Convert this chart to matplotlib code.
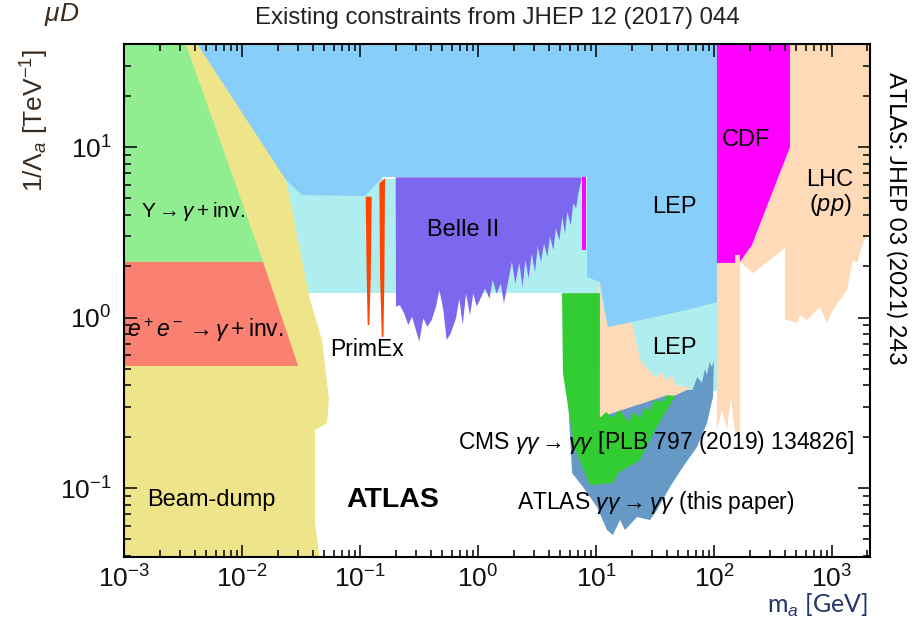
import matplotlib
matplotlib.use("Agg")
import matplotlib.pyplot as plt
from matplotlib.ticker import LogLocator, NullFormatter, FixedLocator

plt.rcParams['font.family'] = ['Liberation Sans', 'DejaVu Sans']
plt.rcParams['mathtext.fontset'] = 'custom'
plt.rcParams['mathtext.rm'] = 'Liberation Sans'
plt.rcParams['mathtext.it'] = 'Liberation Sans:italic'
plt.rcParams['mathtext.bf'] = 'Liberation Sans:bold'

# ---- exclusion regions: mass m_a [GeV], coupling 1/Lambda_a [TeV^-1] ----
lep_pale_m = [0.02, 120, 120, 10.8, 10.8, 0.02]
lep_pale_c = [6.5, 6.5, 0.37, 0.37, 1.39, 1.39]

lep_m = [0.003, 106, 106, 59, 20.2, 12.6, 10.8, 8.39, 8.39, 0.157, 0.11, 0.0322, 0.0236]
lep_c = [41, 41, 1.23, 1.11, 0.941, 0.88, 1.61, 1.73, 6.67, 6.67, 5.16, 5.22, 6.4]

belle_m = [0.2006, 7.56, 7.56, 7.09, 6.78, 6.43, 6.11, 5.72, 5.46, 5.19, 4.89, 4.58, 4.35,
           4.08, 3.87, 3.63, 3.42, 3.21, 3.04, 2.85, 2.69, 2.52, 2.39, 2.24, 2.07, 1.94,
           1.81, 1.66, 1.56, 1.44, 1.33, 1.25, 1.15, 1.05, 0.975, 0.914, 0.856, 0.792,
           0.742, 0.695, 0.651, 0.587, 0.543, 0.508, 0.471, 0.441, 0.405, 0.372, 0.344,
           0.318, 0.298, 0.276, 0.257, 0.236, 0.218, 0.202]
belle_c = [6.64, 6.64, 6.55, 5.35, 4.36, 4.67, 3.48, 4.17, 3.11, 3.90, 2.84, 3.33, 2.49,
           2.98, 2.27, 2.72, 2.12, 2.60, 1.85, 2.38, 1.69, 2.17, 1.51, 2.08, 1.58, 2.12,
           1.66, 1.21, 1.58, 1.38, 1.66, 1.29, 1.48, 1.29, 1.16, 1.38, 1.03, 1.38,
           0.903, 1.29, 0.989, 0.807, 0.738, 1.11, 1.45, 1.16, 0.966, 0.883, 0.989,
           0.722, 0.843, 1.01, 0.903, 1.06, 1.18, 1.16]

primex1_m = [0.1117, 0.1256, 0.1233, 0.120, 0.1162, 0.114]
primex1_c = [5.11, 5.11, 1.73, 0.903, 0.903, 1.73]
primex2_m = [0.146, 0.163, 0.161, 0.158, 0.153, 0.148]
primex2_c = [6.12, 6.55, 1.73, 0.771, 0.771, 1.73]

babar_m = [7.56, 8.23, 8.23, 7.56]
babar_c = [6.64, 6.64, 2.49, 2.49]

cdf_m = [106, 441, 441, 231, 210, 183, 166, 151, 106]
cdf_c = [41, 41, 10, 3.17, 2.66, 2.33, 2.12, 2.03, 2.09]

lhc_m = [166, 2200, 2200, 1832, 1630, 1507, 1340, 1019, 907, 791, 614, 536, 505, 416,
         400, 400, 214, 166]
lhc_c = [41, 41, 3.4, 2.74, 2.09, 2.17, 1.45, 1.11, 0.929, 1.15, 0.967, 1.03, 0.929,
         0.967, 0.97, 2.56, 1.82, 2.12]

lhc_strip_m = [106, 151, 151, 166, 166, 151, 139, 129, 117, 106]
lhc_strip_c = [2.09, 2.09, 2.33, 2.33, 0.21, 0.21, 0.342, 0.219, 0.287, 0.219]

lhc_low_m = [10.4, 12.6, 20.2, 23.6, 32.2, 36.2, 39.2, 44.0, 47.6, 62.6, 62.6, 10.8]
lhc_low_c = [1.61, 0.88, 0.941, 0.564, 0.442, 0.479, 0.43, 0.454, 0.402, 0.386, 0.251, 0.234]

atlas_m = [5.8, 6.27, 7.76, 10.2, 12.4, 13.9, 16.0, 17.6, 22.3, 28.7, 32.9, 42.4, 54.6,
           71.8, 87.3, 98.1, 100, 96, 92, 87, 84, 79, 72, 66, 59, 44, 40, 10.8]
atlas_c = [0.33, 0.1225, 0.1014, 0.0774, 0.0567, 0.053, 0.0649, 0.0567, 0.0676, 0.0649,
           0.0743, 0.1014, 0.133, 0.174, 0.240, 0.342, 0.56, 0.513, 0.55, 0.46, 0.50,
           0.413, 0.448, 0.376, 0.376, 0.342, 0.35, 0.26]

cms_m = [5.15, 10.8, 10.8, 12.2, 13.7, 16.0, 18.7, 21.0, 23.6, 26.0, 28.7, 31.6, 36.2,
         40.7, 47.0, 31.6, 23.6, 15.4, 13.9, 8.9, 6.6, 5.8, 5.25]
cms_c = [1.39, 1.39, 0.258, 0.279, 0.258, 0.287, 0.244, 0.279, 0.258, 0.295, 0.287,
         0.328, 0.319, 0.351, 0.347, 0.219, 0.146, 0.1225, 0.107, 0.104, 0.17, 0.3, 0.472]

beamdump_m = [5e-4, 5e-4, 4.1e-3, 0.0236, 0.0377, 0.0477, 0.0546, 0.0525, 0.0416,
              0.0416, 0.0477]
beamdump_c = [0.03, 41, 41, 6.4, 1.27, 0.738, 0.328, 0.240, 0.219, 0.0623, 0.03]

upsilon_m = [5e-4, 3.3e-3, 0.0151, 5e-4]
upsilon_c = [41, 41, 2.12, 2.12]

ee_m = [5e-4, 0.0151, 0.0299, 5e-4]
ee_c = [2.12, 2.12, 0.52, 0.52]

x_major = [1e-3, 1e-2, 1e-1, 1e0, 1e1, 1e2, 1e3]
y_major = [1e-1, 1e0, 1e1]

fig = plt.figure(figsize=(9.14, 6.27), dpi=100)
ax = fig.add_axes([124/914, 1 - 557/627, 746/914, 513/627])
ax.set_xscale('log')
ax.set_yscale('log')

regions = [
    (lep_pale_m, lep_pale_c, '#AFEEEE'),
    (lhc_low_m, lhc_low_c, '#FFDAB9'),
    (lep_m, lep_c, '#87CEFA'),
    (belle_m, belle_c, '#7B68EE'),
    (primex1_m, primex1_c, '#FF4500'),
    (primex2_m, primex2_c, '#FF4500'),
    (babar_m, babar_c, '#FF00FF'),
    (lhc_m, lhc_c, '#FFDAB9'),
    (cdf_m, cdf_c, '#FF00FF'),
    (lhc_strip_m, lhc_strip_c, '#FFDAB9'),
    (atlas_m, atlas_c, '#6699C6'),
    (cms_m, cms_c, '#32CD32'),
    (beamdump_m, beamdump_c, '#EEE48A'),
    (upsilon_m, upsilon_c, '#90EE90'),
    (ee_m, ee_c, '#FA8072'),
]
for m, c, col in regions:
    ax.fill(m, c, color=col, lw=0)

ax.set_xlim(1e-3, 2100)
ax.set_ylim(0.0394, 40.2)

ax.xaxis.set_major_locator(FixedLocator(x_major))
ax.yaxis.set_major_locator(FixedLocator(y_major))
for axis in (ax.xaxis, ax.yaxis):
    axis.set_minor_locator(LogLocator(base=10, subs=range(2, 10), numticks=20))
    axis.set_minor_formatter(NullFormatter())
ax.tick_params(which='both', direction='in', top=True, right=True, width=1.2,
               labelsize=19, colors='#111111')
ax.tick_params(which='major', length=9)
ax.tick_params(which='minor', length=5)
ax.tick_params(axis='x', pad=6)
ax.tick_params(axis='y', pad=9)
for s in ax.spines.values():
    s.set_linewidth(1.5)

fs = 16.5
ax.text(1.39e-3, 4.16, r'$\Upsilon \rightarrow \gamma + \mathrm{inv.}$', fontsize=15,
        va='center')
ax.text(1.06e-3, 0.845, r'$e^+e^- \rightarrow \gamma + \mathrm{inv.}$', fontsize=16.5,
        va='center')
ax.text(1.57e-3, 0.085, 'Beam-dump', fontsize=17, va='center')
ax.text(0.076, 0.085, 'ATLAS', fontsize=20.5, fontweight='bold', va='center')
ax.text(0.0557, 0.653, 'PrimEx', fontsize=fs, va='center')
ax.text(0.37, 3.26, 'Belle II', fontsize=17, va='center')
ax.text(29.9, 4.45, 'LEP', fontsize=17, va='center')
ax.text(29.9, 0.662, 'LEP', fontsize=17, va='center')
ax.text(117, 11.0, 'CDF', fontsize=17, va='center')
ax.text(961, 6.4, 'LHC', fontsize=17, va='center', ha='center')
ax.text(961, 4.57, r'($\mathit{pp}$)', fontsize=17, va='center', ha='center')
ax.text(0.678, 0.186, r'CMS $\gamma\gamma \rightarrow \gamma\gamma$ [PLB 797 (2019) 134826]',
        fontsize=fs, va='center')
ax.text(2.14, 0.0828, r'ATLAS $\gamma\gamma \rightarrow \gamma\gamma$ (this paper)',
        fontsize=fs, va='center')

fig.text(497/914, 1 - 18/627, 'Existing constraints from JHEP 12 (2017) 044',
         fontsize=17.3, ha='center', va='center', color='#222222')
fig.text(35/914, 1 - 120/627, r'$1/\Lambda_a$ [TeV$^{-1}$]', fontsize=19,
         rotation=90, ha='center', va='center', color='#3a2a1e')
fig.text(868/914, 1 - 605/627, r'm$_a$ [GeV]', fontsize=18, family='Lato',
         ha='right', va='center', color='#27366a')
fig.text(896/914, 1 - 218/627, 'ATLAS: JHEP 03 (2021) 243', fontsize=17, family='Lato',
         rotation=-90, ha='center', va='center', color='black')
fig.text(62/914, 1 - 14/627, r'$\mu D$', fontsize=19, ha='center', va='center',
         color='#3a2a1e')

fig.savefig('out.png', dpi=100)
